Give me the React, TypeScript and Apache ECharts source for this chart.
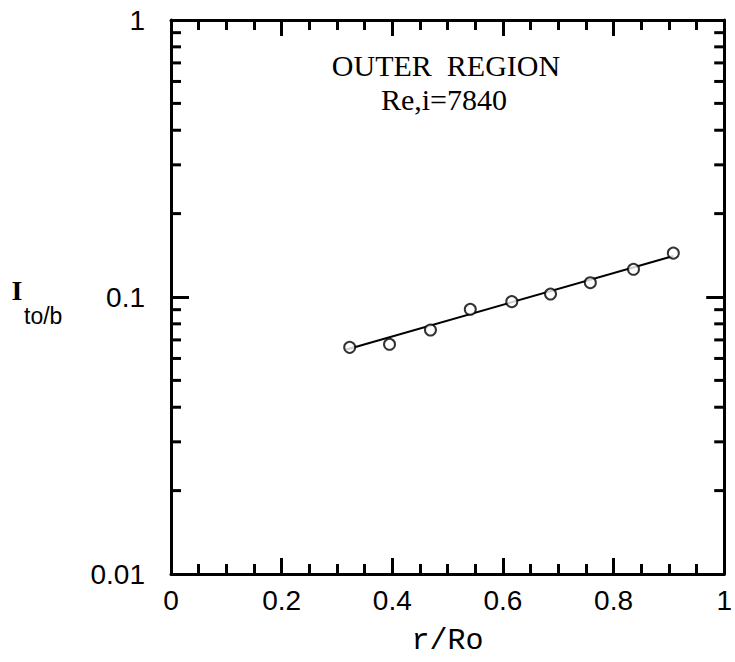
import React, { useEffect, useRef } from "react";
import * as echarts from "echarts";

const rRatio = [0.323, 0.395, 0.469, 0.541, 0.616, 0.686, 0.758, 0.836, 0.908];
const iValues = [0.0658, 0.0675, 0.076, 0.0903, 0.0962, 0.1025, 0.1126, 0.1259, 0.144];
const fitX = [0.316, 0.908];
const fitY = [0.0645, 0.1406];
const yMinorTicks = [0.02, 0.03, 0.04, 0.05, 0.06, 0.07, 0.08, 0.09, 0.2, 0.3, 0.4, 0.5, 0.6, 0.7, 0.8, 0.9];
const titleLines = ["OUTER  REGION", "Re,i=7840"];

export default function App() {
  const ref = useRef<HTMLDivElement>(null);
  useEffect(() => {
    const chart = echarts.init(ref.current!, null, { renderer: "svg" });
    const grid = { left: 171, top: 20, width: 556, height: 554 };
    const lineStyle = { color: "#000", width: 3 };
    const xCommon = {
      type: "value",
      min: 0,
      max: 1,
      interval: 0.2,
      splitLine: { show: false },
      axisLine: { show: true, onZero: false, lineStyle },
      axisTick: { show: true, inside: true, length: 16, lineStyle: { color: "#000", width: 3 } },
      minorTick: { show: true, splitNumber: 4, length: 10, lineStyle: { color: "#000", width: 3 } },
    };
    const yCommon = {
      type: "log",
      logBase: 10,
      min: 0.01,
      max: 1,
      splitLine: { show: false },
      axisLine: { show: true, onZero: false, lineStyle },
      axisTick: { show: true, inside: true, length: 18, lineStyle: { color: "#000", width: 3 } },
      minorTick: { show: false },
    };
    chart.setOption({
      animation: false,
      backgroundColor: "#fff",
      grid,
      xAxis: [
        {
          ...xCommon,
          position: "bottom",
          name: "r/Ro",
          nameLocation: "middle",
          nameGap: 52,
          nameTextStyle: { fontFamily: "Liberation Mono", fontSize: 30, color: "#000" },
          axisLabel: {
            fontFamily: "Liberation Sans",
            fontSize: 28,
            color: "#000",
            margin: 12,
            formatter: (v: number) => String(v),
          },
        },
        { ...xCommon, position: "top", axisLabel: { show: false } },
      ],
      yAxis: [
        {
          ...yCommon,
          position: "left",
          axisLabel: {
            fontFamily: "Liberation Sans",
            fontSize: 28,
            color: "#000",
            margin: 26,
            formatter: (v: number) => String(v),
          },
        },
        { ...yCommon, position: "right", axisLabel: { show: false } },
      ],
      graphic: [
        {
          type: "text",
          x: 446,
          y: 65,
          style: {
            text: titleLines[0],
            align: "center",
            verticalAlign: "middle",
            fontFamily: "Liberation Serif",
            fontSize: 30,
            fill: "#000",
          },
        },
        {
          type: "text",
          x: 444,
          y: 99,
          style: {
            text: titleLines[1],
            align: "center",
            verticalAlign: "middle",
            fontFamily: "Liberation Serif",
            fontSize: 30,
            fill: "#000",
          },
        },
        {
          type: "text",
          x: 17,
          y: 290,
          style: {
            text: "I",
            align: "center",
            verticalAlign: "middle",
            fontFamily: "Liberation Serif",
            fontWeight: "bold",
            fontSize: 28,
            fill: "#000",
          },
        },
        {
          type: "text",
          x: 24,
          y: 316,
          style: {
            text: "to/b",
            align: "left",
            verticalAlign: "middle",
            fontFamily: "Liberation Sans",
            fontSize: 23,
            fill: "#000",
          },
        },
      ],
      series: [
        {
          type: "line",
          data: fitX.map((x, i) => [x, fitY[i]]),
          showSymbol: false,
          symbol: "none",
          lineStyle: { color: "#000", width: 2 },
          z: 2,
        },
        {
          type: "scatter",
          data: rRatio.map((x, i) => [x, iValues[i]]),
          symbol: "circle",
          symbolSize: 11,
          itemStyle: { color: "#fff", borderColor: "#000", borderWidth: 2 },
          z: 3,
        },
        {
          type: "custom",
          data: yMinorTicks.map((v) => [0, v]),
          renderItem: (params: any, api: any) => {
            const p = api.coord([0, api.value(1)]);
            const cs = params.coordSys;
            const xl = cs.x;
            const xr = cs.x + cs.width;
            return {
              type: "group",
              children: [
                {
                  type: "line",
                  shape: { x1: xl, y1: p[1], x2: xl + 10, y2: p[1] },
                  style: { stroke: "#000", lineWidth: 3 },
                },
                {
                  type: "line",
                  shape: { x1: xr, y1: p[1], x2: xr - 10, y2: p[1] },
                  style: { stroke: "#000", lineWidth: 3 },
                },
              ],
            };
          },
          z: 4,
        },
      ],
    });
    return () => chart.dispose();
  }, []);
  return (
    <div
      ref={ref}
      style={{ position: "fixed", left: 0, top: 0, width: 735, height: 662, background: "#fff" }}
    />
  );
}
